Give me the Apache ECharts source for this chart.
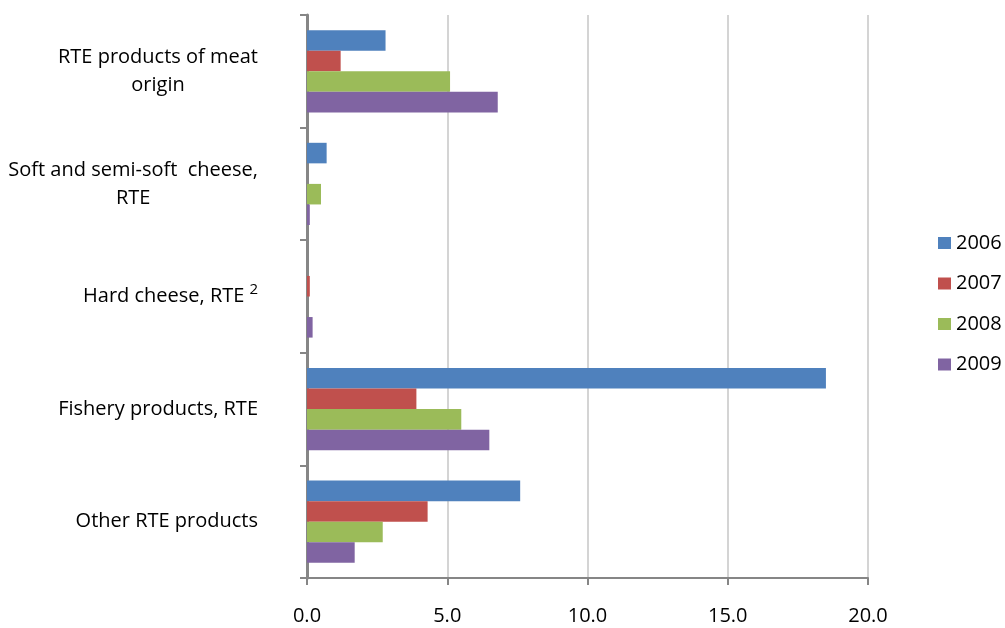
<!DOCTYPE html>
<html>
<head>
<meta charset="utf-8">
<script src="https://cdn.jsdelivr.net/npm/echarts@6/dist/echarts.min.js"></script>
<style>
  html, body { margin: 0; padding: 0; background: #fff; }
  #chart { width: 1005px; height: 628px; }
</style>
</head>
<body>
<div id="chart"></div>
<script>
// Product categories, top to bottom
const categories = [
  'RTE products of meat\norigin',
  'Soft and semi-soft  cheese,\nRTE',
  'Hard cheese, RTE',
  'Fishery products, RTE',
  'Other RTE products'
];
// Footnote markers shown after a category name
const footnotes = ['', '', '2', '', ''];

const years = ['2006', '2007', '2008', '2009'];
const values2006 = [2.8, 0.7, 0, 18.5, 7.6];
const values2007 = [1.2, 0, 0.1, 3.9, 4.3];
const values2008 = [5.1, 0.5, 0, 5.5, 2.7];
const values2009 = [6.8, 0.1, 0.2, 6.5, 1.7];

const xMin = 0, xMax = 20, xStep = 5;

const colors = ['#4F81BD', '#C0504D', '#9BBB59', '#8064A2'];
const FONT = 'Open Sans';

const chart = echarts.init(document.getElementById('chart'), null, { renderer: 'canvas' });

const seriesValues = [values2006, values2007, values2008, values2009];

chart.setOption({
  animation: false,
  color: colors,
  grid: { left: 307, right: 137, top: 15, bottom: 50, containLabel: false },
  legend: {
    orient: 'vertical',
    left: 933,
    top: 228,
    data: years,
    icon: 'rect',
    itemWidth: 13,
    itemHeight: 12,
    itemGap: 20.5,
    textStyle: { fontFamily: FONT, fontSize: 20, color: '#000' }
  },
  xAxis: {
    type: 'value',
    min: xMin,
    max: xMax,
    interval: xStep,
    axisLine: { show: true, lineStyle: { color: '#868686', width: 2 } },
    axisTick: { show: true, length: 7, lineStyle: { color: '#868686', width: 2 } },
    splitLine: { show: true, lineStyle: { color: '#D4D4D4', width: 2 } },
    axisLabel: {
      margin: 28,
      fontFamily: FONT,
      fontSize: 20,
      color: '#000',
      formatter: v => v.toFixed(1)
    }
  },
  yAxis: {
    type: 'category',
    inverse: true,
    data: categories,
    axisLine: { show: true, lineStyle: { color: '#868686', width: 3 } },
    axisTick: { show: true, length: 7, lineStyle: { color: '#868686', width: 2 } },
    axisLabel: {
      margin: 49,
      align: 'right',
      fontFamily: FONT,
      fontSize: 20,
      color: '#000',
      formatter: (value, idx) => {
        const lines = value.split('\n').map(l => '{c|' + l + '}');
        if (footnotes[idx]) lines[lines.length - 1] += '{s|' + footnotes[idx] + '}';
        return lines.join('\n');
      },
      rich: {
        c: { align: 'center', fontFamily: FONT, fontSize: 20, lineHeight: 28, color: '#000' },
        s: { fontFamily: FONT, fontSize: 15, lineHeight: 14, verticalAlign: 'top', padding: [0, 0, 0, 5], color: '#000' }
      }
    }
  },
  series: years.map((y, i) => ({
    name: y,
    type: 'bar',
    data: seriesValues[i],
    barGap: '0%',
    barCategoryGap: '27%'
  }))
});
</script>
</body>
</html>
